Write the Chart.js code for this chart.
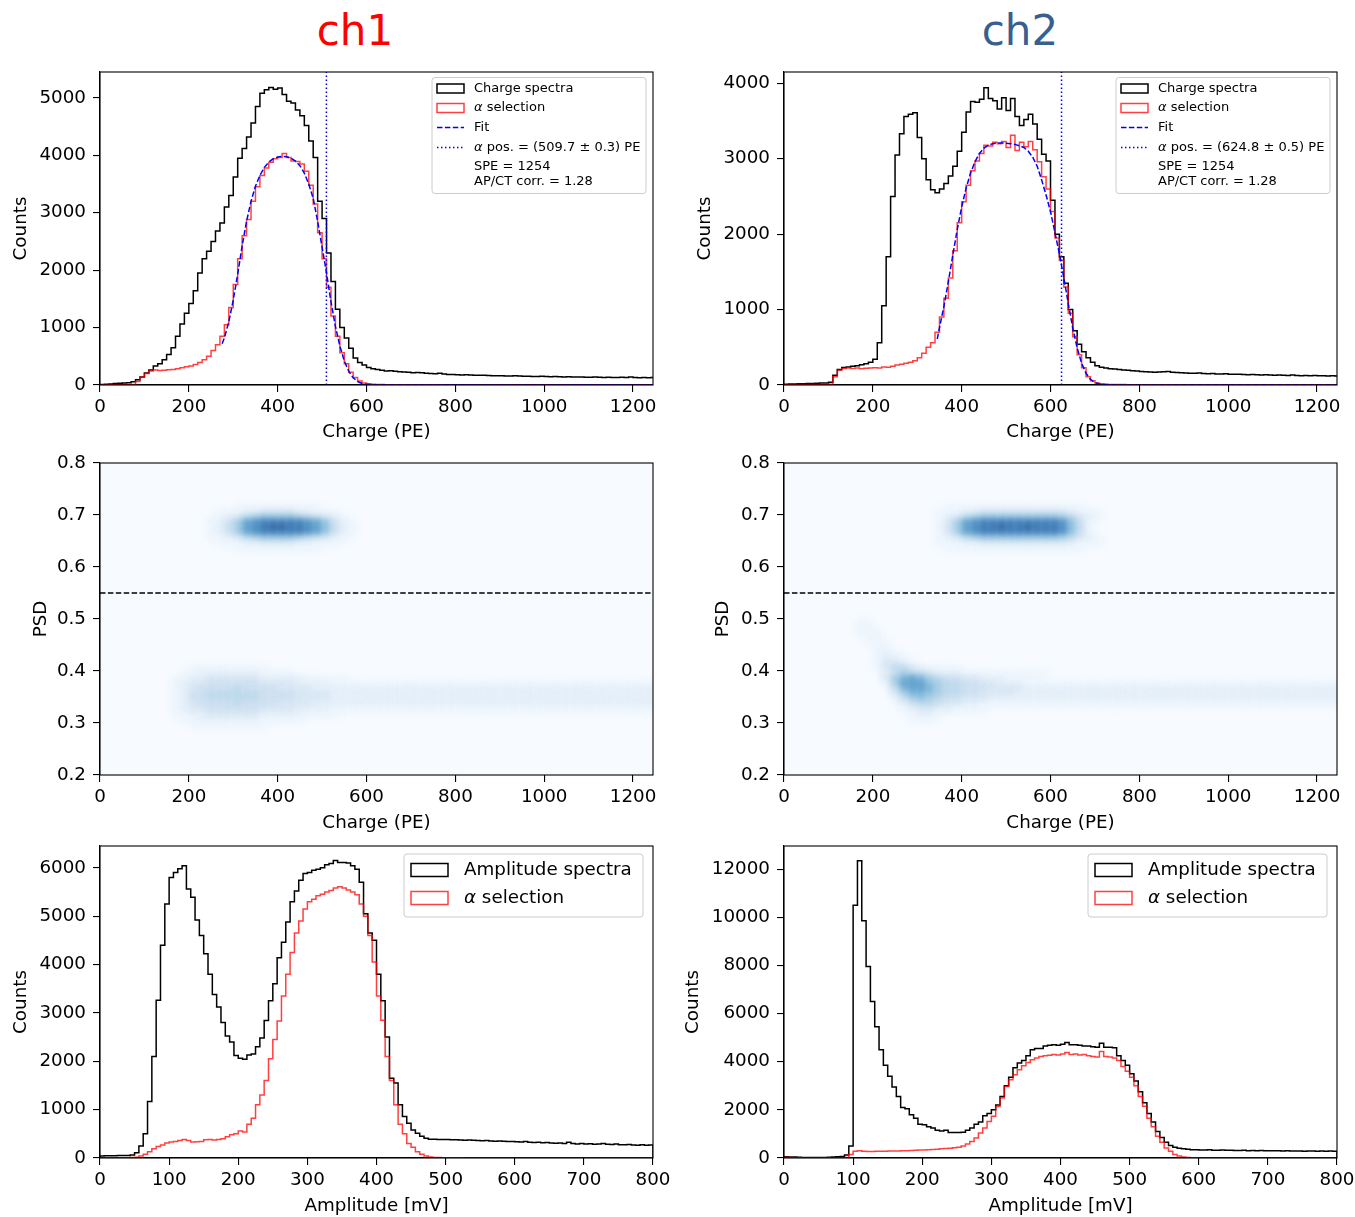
<!DOCTYPE html>
<html>
<head>
<meta charset="utf-8">
<title>ch1 / ch2 spectra</title>
<script src="https://cdn.jsdelivr.net/npm/chart.js@4.4.1/dist/chart.umd.min.js"></script>
<style>
  html, body { margin:0; padding:0; background:#ffffff; }
  body { position:relative; width:1355px; height:1217px; overflow:hidden; }
  canvas { position:absolute; }
  .ttl { position:absolute; width:200px; text-align:center; font-family:'DejaVu Sans', sans-serif; font-size:42px; line-height:42px; }
</style>
</head>
<body>
<div class="ttl" style="left:255px; top:10px; color:#ff0000;">ch1</div>
<div class="ttl" style="left:920px; top:10px; color:#3a5f8f;">ch2</div>
<canvas id="q1" width="690" height="400" style="left:0px; top:50px;"></canvas>
<canvas id="q2" width="700" height="400" style="left:680px; top:50px;"></canvas>
<canvas id="p1" width="690" height="400" style="left:0px; top:440px;"></canvas>
<canvas id="p2" width="700" height="400" style="left:680px; top:440px;"></canvas>
<canvas id="a1" width="690" height="391" style="left:0px; top:826px;"></canvas>
<canvas id="a2" width="700" height="391" style="left:680px; top:826px;"></canvas>
<script>
// ---------------- DATA ----------------
const CHARGE_BIN = 10;          // PE per bin
const AMP_BIN = 6.25;           // mV per bin
const CHARGE_X_MAX = 1245;
const AMP_X_MAX = 800;
const PSD_MIN = 0.2, PSD_MAX = 0.8;
const PSD_CUT = 0.55;

const CHARGE_X_TICKS = [0, 200, 400, 600, 800, 1000, 1200];
const AMP_X_TICKS = [0, 100, 200, 300, 400, 500, 600, 700, 800];
const PSD_TICKS = [0.2, 0.3, 0.4, 0.5, 0.6, 0.7, 0.8];
const Y_TICKS_CHARGE_CH1 = [0, 1000, 2000, 3000, 4000, 5000];
const Y_TICKS_CHARGE_CH2 = [0, 1000, 2000, 3000, 4000];
const Y_TICKS_AMP_CH1 = [0, 1000, 2000, 3000, 4000, 5000, 6000];
const Y_TICKS_AMP_CH2 = [0, 2000, 4000, 6000, 8000, 10000, 12000];

const X_TITLE_CHARGE = 'Charge (PE)';
const X_TITLE_AMP = 'Amplitude [mV]';
const Y_TITLE_COUNTS = 'Counts';
const Y_TITLE_PSD = 'PSD';

const Y_MAX_CHARGE_CH1 = 5450;
const Y_MAX_CHARGE_CH2 = 4150;
const Y_MAX_AMP_CH1 = 6450;
const Y_MAX_AMP_CH2 = 12960;

const ALPHA_POS_CH1 = 509.7;
const ALPHA_POS_CH2 = 624.8;

const LEGEND_CHARGE_CH1 = ['Charge spectra', 'α selection', 'Fit', 'α pos. = (509.7 ± 0.3) PE', 'SPE = 1254', 'AP/CT corr. = 1.28'];
const LEGEND_CHARGE_CH2 = ['Charge spectra', 'α selection', 'Fit', 'α pos. = (624.8 ± 0.5) PE', 'SPE = 1254', 'AP/CT corr. = 1.28'];
const LEGEND_AMP = ['Amplitude spectra', 'α selection'];

// charge spectra, 10 PE bins starting at 0
const CH1_CHARGE_ALL = [
  10,15,18,25,30,35,40,55,90,140,
  210,260,330,370,440,530,650,850,1060,1250,
  1420,1640,1950,2200,2330,2500,2680,2820,3100,3300,
  3620,3950,4120,4320,4560,4850,5080,5140,5180,5150,
  5170,5060,4940,4910,4790,4690,4520,4250,3960,3200,
  2900,2300,1800,1320,1000,820,640,470,390,350,
  305,285,270,258,245,250,238,230,228,220,
  215,218,212,205,200,198,205,190,185,182,
  180,176,178,172,170,168,171,165,163,160,
  162,158,156,160,155,152,154,150,148,151,
  147,145,148,143,141,144,140,138,141,137,
  135,138,134,132,136,131,129,133,130,140,
  131,128,130,127,129];
const CH1_CHARGE_ALPHA = [
  0,2,3,4,5,5,6,10,60,140,
  200,245,262,252,258,265,272,285,300,318,
  330,355,390,440,500,600,700,850,1050,1350,
  1750,2200,2600,2880,3200,3450,3650,3780,3880,3940,
  3960,4030,3960,3900,3890,3850,3720,3480,3150,2650,
  2200,1700,1200,850,560,370,220,130,70,35,
  22,14,10,8,6,5,5,4,4,4,
  3,3,3,3,3,3,3,2,2,2,
  2,2,2,2,2,2,2,2,2,2,
  2,2,2,2,2,2,2,2,2,2,
  2,2,2,2,2,2,2,2,2,2,
  2,2,2,2,2,2,2,2,2,2,
  2,2,2,2,2];
const FIT_X_CH1 = [275,280,290,300,310,320,330,340,350,360,370,380,390,400,410,420,430,440,450,460,470,480,490,500,510,520,530,540,550,560,570,580,590,600,620,650,1245];
const FIT_Y_CH1 = [720,820,1100,1480,1930,2420,2850,3200,3460,3650,3790,3880,3940,3970,3980,3975,3950,3900,3820,3690,3500,3250,2850,2400,1950,1450,1020,680,420,240,125,60,27,11,2,0,0];

const CH2_CHARGE_ALL = [
  10,12,14,15,17,19,21,22,25,28,
  35,130,205,232,240,248,255,268,282,300,
  340,560,1050,1700,2500,3050,3330,3560,3590,3610,
  3280,3000,2720,2590,2550,2600,2670,2770,2900,3100,
  3350,3620,3760,3750,3790,3940,3800,3770,3660,3810,
  3640,3800,3560,3440,3520,3590,3460,3260,3060,2970,
  2450,2000,1700,1350,1000,720,540,440,360,300,
  255,235,225,215,212,205,200,196,190,185,
  180,176,172,170,174,176,178,170,166,163,
  160,157,155,158,152,150,152,147,146,148,
  144,141,143,139,137,140,135,133,136,131,
  130,133,128,127,131,126,124,127,122,125,
  121,124,120,122,120];
const CH2_CHARGE_ALPHA = [
  4,4,5,5,5,6,6,6,7,8,
  10,110,195,220,226,218,225,214,222,226,
  230,224,238,236,250,265,275,290,300,322,
  360,420,500,560,700,900,1150,1420,1780,2150,
  2430,2650,2840,2970,3070,3180,3170,3220,3200,3230,
  3150,3310,3110,3220,3160,3230,3120,2960,2760,2600,
  2300,1950,1650,1300,950,640,400,230,110,55,
  28,16,10,7,6,5,5,4,4,4,
  3,3,3,3,3,3,3,3,3,3,
  3,3,3,3,3,3,3,3,3,3,
  3,3,3,3,3,3,3,3,3,3,
  3,3,3,3,3,3,3,3,3,3,
  3,3,3,3,3];
const FIT_X_CH2 = [345,350,360,370,380,390,400,410,420,430,440,450,460,470,480,490,500,510,520,530,540,550,560,570,580,590,600,610,620,630,640,650,660,670,680,690,700,710,720,740,760,1245];
const FIT_Y_CH2 = [610,760,1040,1370,1720,2060,2360,2610,2810,2960,3070,3140,3180,3200,3210,3210,3205,3200,3190,3170,3150,3100,3020,2900,2720,2520,2300,2020,1740,1420,1080,760,490,290,155,75,33,13,5,1,0,0];

// amplitude spectra, 6.25 mV bins starting at 0
const CH1_AMP_ALL = [
  40,45,45,45,50,50,50,60,110,250,
  500,1170,2100,3260,4400,5250,5800,5900,5980,6040,
  5560,5390,4920,4600,4220,3800,3380,3120,2800,2520,
  2400,2120,2060,2040,2130,2150,2300,2480,2840,3250,
  3600,4140,4460,4880,5300,5520,5740,5880,5900,5950,
  5970,6000,6060,6090,6150,6110,6110,6100,6040,5970,
  5700,5050,4650,4500,3800,3250,2500,1650,1550,1100,
  860,720,580,510,450,410,390,390,380,385,
  380,375,378,370,365,372,368,360,355,362,
  350,345,352,348,340,342,335,330,340,326,
  320,328,315,322,310,305,312,300,325,298,
  292,300,288,296,282,290,302,286,280,291,
  276,272,281,270,266,276,262,268];
const CH1_AMP_ALPHA = [
  5,5,5,5,5,5,6,8,15,40,
  80,130,190,240,270,310,330,340,360,380,
  360,330,335,340,375,380,370,385,400,440,
  480,500,560,540,700,820,1100,1300,1600,2050,
  2450,2830,3350,3800,4250,4650,4900,5150,5300,5350,
  5420,5450,5500,5530,5580,5610,5580,5540,5500,5440,
  5250,5000,4600,4050,3350,2850,2100,1600,1100,700,
  500,300,220,130,80,40,20,12,8,5,
  3,3,3,3,2,2,2,2,2,2,
  2,2,2,2,2,2,2,2,2,2,
  2,2,2,2,2,2,2,2,2,2,
  2,2,2,2,2,2,2,2,2,2,
  2,2,2,2,2,2,2,2];
const CH2_AMP_ALL = [
  50,45,40,30,25,25,20,20,20,25,
  30,40,50,60,120,500,10500,12350,9850,7950,
  6500,5450,4500,3850,3400,2950,2550,2100,2050,1800,
  1650,1400,1380,1300,1250,1150,1120,1150,1060,1060,
  1060,1070,1150,1250,1400,1500,1750,1850,2000,2200,
  2550,3000,3350,3750,3950,4050,4250,4500,4550,4550,
  4650,4680,4700,4680,4720,4800,4700,4700,4680,4650,
  4650,4620,4600,4770,4600,4600,4580,4250,4050,3850,
  3500,3200,2750,2300,1850,1500,1100,850,650,520,
  450,400,380,360,340,340,335,330,338,325,
  320,328,318,322,315,310,318,305,312,300,
  308,302,296,305,298,292,300,288,295,290,
  284,292,286,280,288,282,290,285];
const CH2_AMP_ALPHA = [
  30,20,10,8,5,5,5,5,5,5,
  5,5,6,8,20,150,280,300,280,270,
  275,280,285,280,290,295,290,300,305,310,
  320,330,335,345,350,360,380,390,400,430,
  450,500,580,690,830,1040,1250,1520,1730,2140,
  2490,2970,3250,3460,3670,3830,3970,4080,4150,4220,
  4250,4270,4300,4280,4320,4380,4300,4320,4280,4300,
  4250,4220,4200,4420,4220,4200,4150,4050,3800,3600,
  3350,3000,2550,2150,1650,1300,900,650,420,280,
  150,80,40,20,12,8,5,5,5,5,
  5,5,4,4,4,4,4,4,4,4,
  4,4,4,4,4,4,4,4,4,4,
  4,4,4,4,4,4,4,4];

// 2D PSD-vs-charge histograms: [PSD row lower edge, first cell left edge (PE), intensity level per 20 PE cell (0..c)]
const HEAT_DX = 20, HEAT_DY = 0.01;
const HEAT_CH1 = [
  [0.71, 200, "00000111111111100000"],
  [0.70, 200, "00011122333322111000"],
  [0.69, 200, "00112356777765432100"],
  [0.68, 200, "0012469abbbbba974210"],
  [0.67, 200, "0012469abccbba974210"],
  [0.66, 200, "0012469abbbbba974210"],
  [0.65, 200, "00112356777765432100"],
  [0.64, 200, "00011122333322111000"],
  [0.63, 200, "00000111111111100000"],
  [0.40, 200, "111111111"],
  [0.39, 180, "1122222221111"],
  [0.38, 160, "11223333332222211111"],
  [0.37, 160, "12334444443333222211"],
  [0.37, 560, "1111111111111111111111111111111111111"],
  [0.36, 160, "12344445444433332222"],
  [0.36, 560, "2222222222222222222222222222222222222"],
  [0.35, 160, "12445555554444333322"],
  [0.35, 560, "2222222222222222222222222222222222222"],
  [0.34, 160, "12445555554444333322"],
  [0.34, 560, "2222222222222222222222222222222222222"],
  [0.33, 160, "12344445444433332222"],
  [0.33, 560, "2222222222222222222222222222222222222"],
  [0.32, 160, "12334444443333222211"],
  [0.32, 560, "1111111111111111111111111111111111111"],
  [0.31, 160, "11223333332222211110"],
  [0.30, 160, "01122222221111100000"],
  [0.29, 160, "00111111111000000000"]
];
const HEAT_CH2 = [
  [0.71, 340, "0111111111111111100"],
  [0.70, 340, "1112233333333332111"],
  [0.69, 340, "1235677777777765321"],
  [0.68, 340, "1369abbbbbbbbba7410"],
  [0.67, 340, "1369abbcbbcbbba7410"],
  [0.66, 340, "1369abbbbbbbbba7410"],
  [0.65, 340, "1235677777777765321"],
  [0.64, 340, "1112233333333332111"],
  [0.63, 340, "0111111111111111100"],
  [0.49, 160, "11"],
  [0.48, 160, "11"],
  [0.47, 160, "111"],
  [0.46, 180, "11"],
  [0.45, 180, "111"],
  [0.44, 200, "11"],
  [0.43, 200, "121"],
  [0.42, 200, "1221"],
  [0.41, 200, "13321"],
  [0.40, 200, "1355321111"],
  [0.39, 220, "2465432221111111111"],
  [0.38, 220, "3689865443322211110"],
  [0.37, 220, "1699976554433222111"],
  [0.37, 600, "11111111111111111111111111111111111"],
  [0.36, 220, "0489986554443333222"],
  [0.36, 600, "22222222222222222222222222222222222"],
  [0.35, 240, "368876554433332222"],
  [0.35, 600, "22222222222222222222222222222222222"],
  [0.34, 240, "146765443332222222"],
  [0.34, 600, "22222222222222222222222222222222222"],
  [0.33, 260, "24554332211111111"],
  [0.33, 600, "11111111111111111111111111111111111"],
  [0.32, 260, "1233221111"],
  [0.31, 280, "1221"],
  [0.30, 280, "111"]
];

// ---------------- STYLE ----------------
const FS = 18.3;
const RED = 'rgba(255,0,0,0.75)';
const BLUE = '#0000ff';
const BLUES = ['#f7fbff','#edf5fc','#e2eef9','#d3e4f3','#c6dbef','#b2d3e9','#99c7e0','#7fb9da','#5fa5d1','#4190c5','#2b7bba','#1662aa','#08478d'];

Chart.defaults.font.family = "'DejaVu Sans', sans-serif";
Chart.defaults.font.size = FS;
Chart.defaults.color = '#000';

// ---------------- HELPERS ----------------
function stepPoints(counts, width) {
  const pts = [{x: 0, y: 0}];
  counts.forEach((c, i) => pts.push({x: i * width, y: c}));
  const end = counts.length * width;
  pts.push({x: end, y: counts[counts.length - 1]});
  pts.push({x: end, y: 0});
  return pts;
}
function zip(xs, ys) { return xs.map((x, i) => ({x: x, y: ys[i]})); }
function heatPoints(rows) {
  const pts = [];
  rows.forEach(([psd, start, lv]) => {
    for (let k = 0; k < lv.length; k++) {
      const v = parseInt(lv[k], 16);
      if (v > 0) pts.push({x: start + k * HEAT_DX + HEAT_DX / 2, y: psd + HEAT_DY / 2, v: v});
    }
  });
  return pts;
}
function fixedTicks(list) {
  return s => { s.ticks = list.map(v => ({value: v})); };
}
function xAxis(max, ticks, title, h, tpb) {
  return {
    type: 'linear', position: 'bottom', min: 0, max: max,
    afterBuildTicks: fixedTicks(ticks),
    ticks: { autoSkip: false, maxRotation: 0, padding: 4, color: '#000', font: {size: FS}, callback: v => String(v) },
    grid: { display: true, drawOnChartArea: false, drawTicks: true, tickLength: 7, color: '#000', lineWidth: 1.1 },
    border: { display: true, color: '#000', width: 1.1 },
    title: { display: true, text: title, color: '#000', font: {size: FS, lineHeight: 1.2}, padding: {top: 0, bottom: tpb} },
    afterFit: s => { s.height = h; }
  };
}
function yAxis(min, max, ticks, title, w, tpt, fmt) {
  return {
    type: 'linear', position: 'left', min: min, max: max,
    afterBuildTicks: fixedTicks(ticks),
    ticks: { autoSkip: false, padding: 7, color: '#000', font: {size: FS}, callback: fmt },
    grid: { display: true, drawOnChartArea: false, drawTicks: true, tickLength: 7, color: '#000', lineWidth: 1.1 },
    border: { display: true, color: '#000', width: 1.1 },
    title: { display: true, text: title, color: '#000', font: {size: FS, lineHeight: 1.2}, padding: {top: tpt, bottom: 0} },
    afterFit: s => { s.width = w; }
  };
}
function baseOptions(pad, xs, ys) {
  return {
    responsive: false, animation: false, events: [], devicePixelRatio: 1,
    layout: { padding: pad },
    plugins: { legend: { display: false }, tooltip: { enabled: false } },
    scales: { x: xs, y: ys }
  };
}
function framePlugin(bg) {
  return {
    id: 'frame',
    beforeDatasetsDraw(chart) {
      if (!bg) return;
      const a = chart.chartArea, ctx = chart.ctx;
      ctx.save(); ctx.fillStyle = bg; ctx.fillRect(a.left, a.top, a.right - a.left, a.bottom - a.top); ctx.restore();
    },
    afterDraw(chart) {
      const a = chart.chartArea, ctx = chart.ctx;
      ctx.save(); ctx.strokeStyle = '#000'; ctx.lineWidth = 1.1; ctx.setLineDash([]);
      ctx.strokeRect(a.left, a.top, a.right - a.left, a.bottom - a.top); ctx.restore();
    }
  };
}
const heatBlurPlugin = {
  id: 'heatblur',
  beforeDatasetDraw(chart, args) {
    if (chart.data.datasets[args.index].isHeat) { chart.ctx.save(); chart.ctx.filter = 'blur(3px)'; }
  },
  afterDatasetDraw(chart, args) {
    if (chart.data.datasets[args.index].isHeat) { chart.ctx.filter = 'none'; chart.ctx.restore(); }
  }
};
function drawLabel(ctx, txt, x, y, fs) {
  ctx.fillStyle = '#000'; ctx.textBaseline = 'middle'; ctx.textAlign = 'left';
  let cx = x;
  const parts = txt.split('α');
  parts.forEach((p, i) => {
    if (i > 0) {
      ctx.font = "italic " + fs + "px 'DejaVu Sans'";
      ctx.fillText('α', cx, y); cx += ctx.measureText('α').width;
    }
    if (p) {
      ctx.font = fs + "px 'DejaVu Sans'";
      ctx.fillText(p, cx, y); cx += ctx.measureText(p).width;
    }
  });
}
function roundRectPath(ctx, x, y, w, h, r) {
  ctx.beginPath();
  ctx.moveTo(x + r, y);
  ctx.arcTo(x + w, y, x + w, y + h, r);
  ctx.arcTo(x + w, y + h, x, y + h, r);
  ctx.arcTo(x, y + h, x, y, r);
  ctx.arcTo(x, y, x + w, y, r);
  ctx.closePath();
}
function legendPlugin(labels, kinds, g) {
  return {
    id: 'mplLegend',
    afterDatasetsDraw(chart) {
      const ctx = chart.ctx, a = chart.chartArea;
      const L = a.right - g.dx - g.w, T = a.top + g.dy;
      ctx.save();
      roundRectPath(ctx, L, T, g.w, g.h, 3);
      ctx.fillStyle = 'rgba(255,255,255,0.8)'; ctx.fill();
      ctx.strokeStyle = '#cccccc'; ctx.lineWidth = 1; ctx.stroke();
      labels.forEach((txt, i) => {
        const y = T + g.rows[i];
        const hx = L + g.hx;
        const k = kinds[i];
        ctx.setLineDash([]);
        if (k === 'rectK' || k === 'rectR') {
          ctx.strokeStyle = k === 'rectK' ? '#000' : RED;
          ctx.lineWidth = 1.5;
          ctx.strokeRect(hx, y - g.hh / 2, g.hw, g.hh);
        } else if (k === 'dash' || k === 'dot') {
          ctx.strokeStyle = BLUE; ctx.lineWidth = 1.5;
          ctx.setLineDash(k === 'dash' ? [5.5, 2.4] : [1.5, 2.5]);
          ctx.beginPath(); ctx.moveTo(hx, y); ctx.lineTo(hx + g.hw, y); ctx.stroke();
          ctx.setLineDash([]);
        }
        drawLabel(ctx, txt, L + g.tx, y, g.fs);
      });
      ctx.restore();
    }
  };
}
const CHARGE_KINDS = ['rectK', 'rectR', 'dash', 'dot', 'none', 'none'];
const AMP_KINDS = ['rectK', 'rectR'];
const CHARGE_LEG_GEOM = { w: 214, h: 116, dx: 7, dy: 5.5, fs: 13, hx: 5, hw: 27, hh: 9, tx: 42, rows: [11, 30.5, 50, 70, 89.5, 104.5] };
const AMP_LEG_GEOM = { w: 239, h: 63, dx: 10, dy: 8, fs: FS, hx: 7, hw: 37, hh: 13, tx: 60, rows: [16, 44] };
const fmtInt = v => String(v);
const fmtPsd = v => v.toFixed(1);

function lineDs(data, color, dash, order, stepped) {
  return { data: data, borderColor: color, borderWidth: 1.5, borderDash: dash, pointRadius: 0, stepped: !!stepped, order: order, fill: false, tension: 0 };
}

// ---------------- CHARGE SPECTRA ----------------
function chargeChart(id, all, alpha, fx, fy, pos, ymax, yticks, labels, yw, tpt, padR) {
  new Chart(document.getElementById(id), {
    type: 'line',
    data: { datasets: [
      lineDs([{x: pos, y: 0}, {x: pos, y: ymax}], BLUE, [1.5, 2.5], 1),
      lineDs(zip(fx, fy), BLUE, [5.5, 2.4], 2),
      lineDs(stepPoints(alpha, CHARGE_BIN), RED, [], 3, true),
      lineDs(stepPoints(all, CHARGE_BIN), '#000', [], 4, true)
    ]},
    options: baseOptions({left: 0, top: 22, right: padR, bottom: 0},
      xAxis(CHARGE_X_MAX, CHARGE_X_TICKS, X_TITLE_CHARGE, 65, 7),
      yAxis(0, ymax, yticks, Y_TITLE_COUNTS, yw, tpt, fmtInt)),
    plugins: [framePlugin(null), legendPlugin(labels, CHARGE_KINDS, CHARGE_LEG_GEOM)]
  });
}
chargeChart('q1', CH1_CHARGE_ALL, CH1_CHARGE_ALPHA, FIT_X_CH1, FIT_Y_CH1, ALPHA_POS_CH1, Y_MAX_CHARGE_CH1, Y_TICKS_CHARGE_CH1, LEGEND_CHARGE_CH1, 100, 10, 37);
chargeChart('q2', CH2_CHARGE_ALL, CH2_CHARGE_ALPHA, FIT_X_CH2, FIT_Y_CH2, ALPHA_POS_CH2, Y_MAX_CHARGE_CH2, Y_TICKS_CHARGE_CH2, LEGEND_CHARGE_CH2, 104, 14, 43);

// ---------------- PSD MAPS ----------------
function cellR(c) { const s = c.chart.scales.x; return Math.abs(s.getPixelForValue(HEAT_DX) - s.getPixelForValue(0)) / 2 + 0.4; }
function cellH(c) { const s = c.chart.scales.y; return Math.abs(s.getPixelForValue(PSD_MIN + HEAT_DY) - s.getPixelForValue(PSD_MIN)) + 0.8; }
function psdChart(id, rows, yw, tpt, padR) {
  new Chart(document.getElementById(id), {
    type: 'scatter',
    data: { datasets: [
      { data: [{x: 0, y: PSD_CUT}, {x: CHARGE_X_MAX, y: PSD_CUT}], showLine: true, borderColor: '#000', borderWidth: 1.5, borderDash: [5.5, 2.4], pointRadius: 0, order: 1 },
      { data: heatPoints(rows), isHeat: true, order: 2, clip: 0, pointStyle: 'line',
        pointRadius: cellR, pointHoverRadius: cellR, pointBorderWidth: cellH, pointHoverBorderWidth: cellH,
        pointBorderColor: c => BLUES[c.raw.v], pointBackgroundColor: 'rgba(0,0,0,0)', pointHitRadius: 0 }
    ]},
    options: baseOptions({left: 0, top: 23, right: padR, bottom: 0},
      xAxis(CHARGE_X_MAX, CHARGE_X_TICKS, X_TITLE_CHARGE, 65, 6),
      yAxis(PSD_MIN, PSD_MAX, PSD_TICKS, Y_TITLE_PSD, yw, tpt, fmtPsd)),
    plugins: [framePlugin(BLUES[0]), heatBlurPlugin]
  });
}
psdChart('p1', HEAT_CH1, 100, 30, 37);
psdChart('p2', HEAT_CH2, 104, 32, 43);

// ---------------- AMPLITUDE SPECTRA ----------------
function ampChart(id, all, alpha, ymax, yticks, yw, tpt, padR) {
  new Chart(document.getElementById(id), {
    type: 'line',
    data: { datasets: [
      lineDs(stepPoints(alpha, AMP_BIN), RED, [], 1, true),
      lineDs(stepPoints(all, AMP_BIN), '#000', [], 2, true)
    ]},
    options: baseOptions({left: 0, top: 20, right: padR, bottom: 0},
      xAxis(AMP_X_MAX, AMP_X_TICKS, X_TITLE_AMP, 59, 0),
      yAxis(0, ymax, yticks, Y_TITLE_COUNTS, yw, tpt, fmtInt)),
    plugins: [framePlugin(null), legendPlugin(LEGEND_AMP, AMP_KINDS, AMP_LEG_GEOM)]
  });
}
ampChart('a1', CH1_AMP_ALL, CH1_AMP_ALPHA, Y_MAX_AMP_CH1, Y_TICKS_AMP_CH1, 100, 10, 37);
ampChart('a2', CH2_AMP_ALL, CH2_AMP_ALPHA, Y_MAX_AMP_CH2, Y_TICKS_AMP_CH2, 104, 2, 43);
</script>
</body>
</html>
